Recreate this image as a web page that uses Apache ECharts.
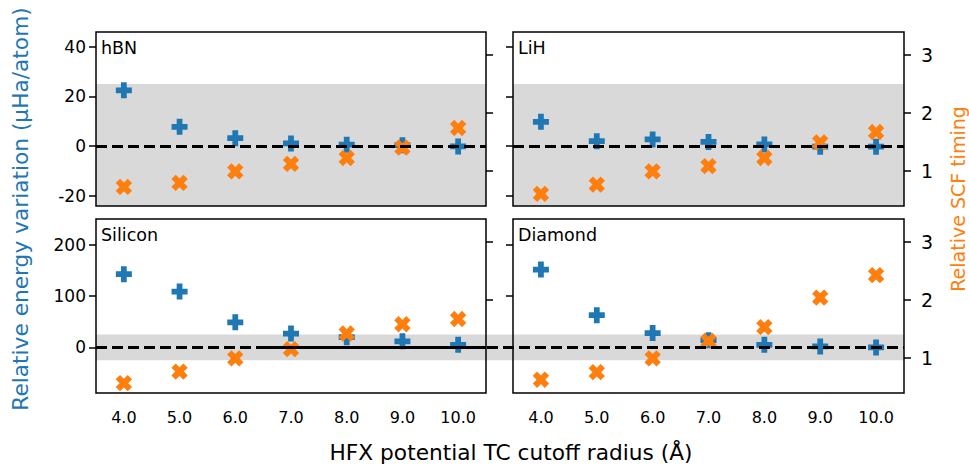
<!DOCTYPE html>
<html>
<head>
<meta charset="utf-8">
<script src="https://cdn.jsdelivr.net/npm/echarts@6/dist/echarts.min.js"></script>
<style>
html, body { margin: 0; padding: 0; background: #fff; }
#main { width: 969px; height: 465px; }
</style>
</head>
<body>
<div id="main"></div>
<script>
var radii = [4.0, 5.0, 6.0, 7.0, 8.0, 9.0, 10.0];
var panelNames = ['hBN', 'LiH', 'Silicon', 'Diamond'];

var hbnEnergy = [22.4, 7.7, 3.1, 1.0, 0.5, 0.3, -0.2];
var hbnTiming = [0.72, 0.79, 0.99, 1.12, 1.22, 1.40, 1.74];
var lihEnergy = [9.7, 1.9, 2.6, 1.6, 0.6, -0.3, -0.3];
var lihTiming = [0.60, 0.76, 0.99, 1.08, 1.22, 1.49, 1.67];
var siliconEnergy = [143, 109, 49, 27, 20, 12, 5];
var siliconTiming = [0.56, 0.76, 0.99, 1.15, 1.42, 1.58, 1.67];
var diamondEnergy = [152, 63, 28, 14, 5, 2, 0];
var diamondTiming = [0.62, 0.75, 0.99, 1.29, 1.53, 2.04, 2.43];

var xTicks = [4, 5, 6, 7, 8, 9, 10];
var topEnergyTicks = [-20, 0, 20, 40];
var bottomEnergyTicks = [0, 100, 200];
var timingTicks = [1, 2, 3];
var bandLimit = 25;

var energies = [hbnEnergy, lihEnergy, siliconEnergy, diamondEnergy];
var timings = [hbnTiming, lihTiming, siliconTiming, diamondTiming];

var BLUE = '#1f77b4', ORANGE = '#ff7f0e', BAND = '#d9d9d9';
var FONT = 'DejaVu Sans';
var plusPath = 'path://M3.2,0H6.8V3.2H10V6.8H6.8V10H3.2V6.8H0V3.2H3.2Z';

// panel boxes (left, top, width, height)
var boxes = [
    [96, 32, 390, 174], [513, 32, 391, 174],
    [96, 219, 390, 174], [513, 219, 391, 174]
];
var leftRange = [[-24.2, 45.9], [-24.2, 45.9], [-89, 250.7], [-89, 250.7]];
var rightRange = [0.39, 3.40];
var dash = [11, 5];

var grid = [], xAxis = [], yAxis = [], series = [];
var tick = { show: true, length: 7, lineStyle: { color: '#000', width: 1.5 } };

boxes.forEach(function (b, i) {
    var bottomRow = i >= 2, leftCol = i % 2 === 0;
    grid.push({ left: b[0], top: b[1], width: b[2], height: b[3], show: true,
        borderColor: '#000', borderWidth: 1.5, z: 5 });
    xAxis.push({
        type: 'value', gridIndex: i, min: 3.5, max: 10.5,
        axisLine: { show: false }, splitLine: { show: false },
        axisTick: Object.assign({ customValues: xTicks }, tick),
        axisLabel: { show: bottomRow, customValues: xTicks, margin: 16,
            fontSize: 16, fontFamily: FONT, color: '#000',
            formatter: function (v) { return v.toFixed(1); } }
    });
    var eTicks = bottomRow ? bottomEnergyTicks : topEnergyTicks;
    yAxis.push({
        type: 'value', gridIndex: i, position: 'left',
        min: leftRange[i][0], max: leftRange[i][1],
        axisLine: { show: false }, splitLine: { show: false },
        axisTick: Object.assign({ customValues: eTicks }, tick),
        axisLabel: { show: leftCol, customValues: eTicks, margin: 10,
            fontSize: 17, fontFamily: FONT, color: '#000' }
    });
    yAxis.push({
        type: 'value', gridIndex: i, position: 'right',
        min: rightRange[0], max: rightRange[1],
        axisLine: { show: false }, splitLine: { show: false },
        axisTick: Object.assign({ customValues: timingTicks }, tick),
        axisLabel: { show: !leftCol, customValues: timingTicks, margin: 17,
            fontSize: 19, fontFamily: FONT, color: '#000' }
    });

    series.push({
        type: 'scatter', xAxisIndex: i, yAxisIndex: 2 * i, data: [], z: 1, silent: true,
        markArea: { silent: true, itemStyle: { color: BAND },
            data: [[{ yAxis: Math.max(-bandLimit, leftRange[i][0]) }, { yAxis: bandLimit }]] }
    });
    if (i !== 3) {
        series.push({
            type: 'scatter', xAxisIndex: i, yAxisIndex: 2 * i, data: [], z: 3, silent: true,
            markLine: { silent: true, symbol: 'none', label: { show: false },
                lineStyle: { color: '#000', width: 3, type: dash },
                data: [{ yAxis: 0 }] }
        });
    }
    series.push({
        name: panelNames[i] + ' energy', type: 'scatter', xAxisIndex: i, yAxisIndex: 2 * i, z: 2,
        symbol: plusPath, symbolSize: 16, itemStyle: { color: BLUE, opacity: 1 },
        data: radii.map(function (x, j) { return [x, energies[i][j]]; })
    });
    series.push({
        name: panelNames[i] + ' timing', type: 'scatter', xAxisIndex: i, yAxisIndex: 2 * i + 1, z: 4,
        symbol: plusPath, symbolSize: 17, symbolRotate: 45, itemStyle: { color: ORANGE, opacity: 1 },
        data: radii.map(function (x, j) { return [x, timings[i][j]]; })
    });
});

// diamond zero line runs from inside the silicon panel across to the right, band spills into the gap
var extras = [[263, 219, 641, 174], [486, 219, 27, 174]];
extras.forEach(function (b, k) {
    var gi = 4 + k;
    grid.push({ left: b[0], top: b[1], width: b[2], height: b[3], show: false });
    xAxis.push({ type: 'value', gridIndex: gi, min: 0, max: 1, show: false });
    yAxis.push({ type: 'value', gridIndex: gi, min: leftRange[3][0], max: leftRange[3][1], show: false });
});
series.push({
    type: 'scatter', xAxisIndex: 4, yAxisIndex: 8, data: [], z: 3, silent: true,
    markLine: { silent: true, symbol: 'none', label: { show: false },
        lineStyle: { color: '#000', width: 3, type: dash }, data: [{ yAxis: 0 }] }
});
series.push({
    type: 'scatter', xAxisIndex: 5, yAxisIndex: 9, data: [], z: 1, silent: true,
    markArea: { silent: true, itemStyle: { color: BAND },
        data: [[{ yAxis: -bandLimit }, { yAxis: bandLimit }]] }
});

var titles = panelNames.map(function (n, i) {
    return { text: n, left: boxes[i][0] + 5, top: boxes[i][1] + 7, padding: 0,
        textStyle: { fontSize: 17.5, fontWeight: 'normal', fontFamily: FONT, color: '#000' } };
});

var option = {
    animation: false,
    backgroundColor: '#fff',
    title: titles,
    grid: grid,
    xAxis: xAxis,
    yAxis: yAxis,
    series: series,
    graphic: [
        { type: 'text', x: 20, y: 209, rotation: Math.PI / 2,
          style: { text: 'Relative energy variation (μHa/atom)', fill: BLUE,
            font: '21.7px "DejaVu Sans"', align: 'center', verticalAlign: 'middle' } },
        { type: 'text', x: 958, y: 199, rotation: Math.PI / 2,
          style: { text: 'Relative SCF timing', fill: ORANGE,
            font: '19px "DejaVu Sans"', align: 'center', verticalAlign: 'middle' } },
        { type: 'text', x: 511, y: 452,
          style: { text: 'HFX potential TC cutoff radius (Å)', fill: '#000',
            font: '21.7px "DejaVu Sans"', align: 'center', verticalAlign: 'middle' } }
    ]
};

var myChart = echarts.init(document.getElementById('main'), null, { renderer: 'svg' });
myChart.setOption(option);
</script>
</body>
</html>
